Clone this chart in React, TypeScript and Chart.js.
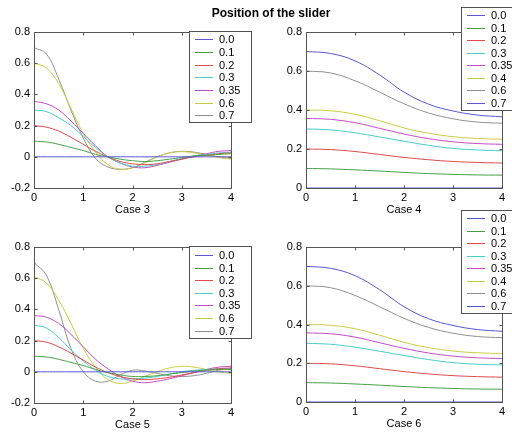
import React, { useEffect, useRef } from 'react';
import { Chart, registerables } from 'chart.js';

Chart.register(...registerables);

const FONT = "'Liberation Sans', Arial, Helvetica, sans-serif";

// ---------- data ----------
const xsFine = [0, 0.25, 0.5, 0.75, 1, 1.25, 1.5, 1.75, 2, 2.25, 2.5, 2.75, 3, 3.25, 3.5, 3.75, 4];
const xsCoarse = [0, 0.5, 1, 1.5, 2, 2.5, 3, 3.5, 4];

const xTicks = [0, 1, 2, 3, 4];
const yTicksSigned = [-0.2, 0, 0.2, 0.4, 0.6, 0.8];
const yTicksPositive = [0, 0.2, 0.4, 0.6, 0.8];

const labelsOdd = ['0.0', '0.1', '0.2', '0.3', '0.35', '0.6', '0.7'];
const labelsEven = ['0.0', '0.1', '0.2', '0.3', '0.35', '0.4', '0.6', '0.7'];

// Case 3
const c3_00 = [0, 0, 0, 0, 0, 0, 0, 0, 0, 0, 0, 0, 0, 0, 0, 0, 0];
const c3_01 = [0.1, 0.095, 0.08, 0.06, 0.04, 0.015, 0.0, -0.015, -0.025, -0.03, -0.025, -0.015, -0.005, 0.005, 0.01, 0.015, 0.02];
const c3_02 = [0.2, 0.19, 0.165, 0.125, 0.08, 0.035, 0.0, -0.03, -0.045, -0.05, -0.045, -0.03, -0.015, 0.0, 0.01, 0.02, 0.025];
const c3_03 = [0.3, 0.29, 0.25, 0.2, 0.13, 0.06, 0.0, -0.04, -0.06, -0.06, -0.05, -0.03, -0.01, 0.005, 0.015, 0.025, 0.03];
const c3_035 = [0.355, 0.34, 0.3, 0.23, 0.15, 0.07, 0.0, -0.04, -0.065, -0.07, -0.055, -0.035, -0.015, 0.005, 0.02, 0.035, 0.04];
const c3_06 = [0.6, 0.57, 0.47, 0.31, 0.15, 0.03, -0.05, -0.08, -0.07, -0.04, 0.0, 0.025, 0.033, 0.025, 0.01, -0.005, -0.015];
const c3_07 = [0.7, 0.66, 0.5, 0.3, 0.12, -0.01, -0.065, -0.08, -0.07, -0.035, 0.0, 0.025, 0.035, 0.03, 0.015, 0.0, -0.01];

// Case 5
const c5_00 = [0, 0, 0, 0, 0, 0, 0, 0, 0, 0, 0, 0, 0, 0, 0, 0, 0];
const c5_01 = [0.1, 0.095, 0.08, 0.06, 0.04, 0.015, -0.005, -0.02, -0.03, -0.03, -0.025, -0.015, -0.005, 0.005, 0.01, 0.015, 0.015];
const c5_02 = [0.2, 0.19, 0.16, 0.12, 0.075, 0.03, -0.005, -0.03, -0.045, -0.05, -0.045, -0.035, -0.02, -0.005, 0.01, 0.02, 0.025];
const c5_03 = [0.3, 0.28, 0.22, 0.14, 0.07, 0.01, -0.03, -0.045, -0.045, -0.04, -0.03, -0.015, 0.0, 0.01, 0.015, 0.02, 0.02];
const c5_035 = [0.36, 0.35, 0.31, 0.24, 0.16, 0.08, 0.02, -0.03, -0.06, -0.07, -0.06, -0.045, -0.025, -0.005, 0.015, 0.03, 0.035];
const c5_06 = [0.61, 0.57, 0.46, 0.31, 0.15, 0.03, -0.05, -0.075, -0.06, -0.03, 0.0, 0.025, 0.035, 0.03, 0.015, 0.0, -0.01];
const c5_07 = [0.7, 0.62, 0.4, 0.15, 0.0, -0.06, -0.06, -0.02, 0.01, 0.005, -0.01, -0.025, -0.03, -0.025, -0.01, 0.01, 0.02];

// Case 4
const c4_00 = [0, 0, 0, 0, 0, 0, 0, 0, 0];
const c4_01 = [0.1, 0.098, 0.093, 0.087, 0.08, 0.074, 0.07, 0.067, 0.066];
const c4_02 = [0.2, 0.197, 0.187, 0.172, 0.157, 0.145, 0.136, 0.131, 0.128];
const c4_03 = [0.303, 0.298, 0.283, 0.262, 0.24, 0.219, 0.203, 0.195, 0.191];
const c4_035 = [0.357, 0.352, 0.335, 0.306, 0.277, 0.253, 0.237, 0.228, 0.224];
const c4_04 = [0.4, 0.396, 0.378, 0.345, 0.308, 0.281, 0.263, 0.254, 0.25];
const c4_06 = [0.6, 0.59, 0.55, 0.492, 0.432, 0.385, 0.355, 0.338, 0.332];
const c4_07 = [0.7, 0.69, 0.652, 0.58, 0.492, 0.43, 0.395, 0.374, 0.365];

// Case 6
const c6_00 = [0, 0, 0, 0, 0, 0, 0, 0, 0];
const c6_01 = [0.1, 0.098, 0.093, 0.087, 0.08, 0.074, 0.07, 0.067, 0.066];
const c6_02 = [0.2, 0.197, 0.187, 0.172, 0.157, 0.145, 0.136, 0.131, 0.128];
const c6_03 = [0.303, 0.298, 0.283, 0.262, 0.24, 0.219, 0.203, 0.195, 0.191];
const c6_035 = [0.357, 0.352, 0.335, 0.306, 0.277, 0.253, 0.237, 0.228, 0.224];
const c6_04 = [0.4, 0.396, 0.378, 0.345, 0.308, 0.281, 0.263, 0.254, 0.25];
const c6_06 = [0.6, 0.59, 0.55, 0.492, 0.432, 0.385, 0.355, 0.338, 0.332];
const c6_07 = [0.7, 0.69, 0.652, 0.58, 0.492, 0.43, 0.395, 0.374, 0.365];

// ---------- styles ----------
const BLUE = '#5656d2';
const GREEN = '#46a046';
const RED = '#e04a4a';
const CYAN = '#46cccc';
const MAGENTA = '#c84ac8';
const YELLOW = '#cccc40';
const GRAY = '#909090';
const colorsOdd = [BLUE, GREEN, RED, CYAN, MAGENTA, YELLOW, GRAY];
const colorsEven = [BLUE, GREEN, RED, CYAN, MAGENTA, YELLOW, GRAY, BLUE];

type Area = { left: number; right: number; top: number; bottom: number };
type LegendBox = { x: number; y: number; w: number; h: number; row0: number; rowH: number };
type PanelCfg = {
  xs: number[];
  series: number[][];
  labels: string[];
  colors: string[];
  yMin: number;
  yMax: number;
  yTicks: number[];
  xTitle: string;
  area: Area;
  legend: LegendBox;
  suptitle?: string;
};

const W = 512;
const H = 435;
const X_AXIS_H = 32;
const Y_AXIS_W = 30;

const panels: PanelCfg[] = [
  {
    xs: xsFine,
    series: [c3_00, c3_01, c3_02, c3_03, c3_035, c3_06, c3_07],
    labels: labelsOdd,
    colors: colorsOdd,
    yMin: -0.2, yMax: 0.8, yTicks: yTicksSigned,
    xTitle: 'Case 3',
    area: { left: 34, right: 231, top: 32, bottom: 188 },
    legend: { x: 189, y: 31, w: 62, h: 91, row0: 39.3, rowH: 12.67 },
    suptitle: 'Position of the slider',
  },
  {
    xs: xsCoarse,
    series: [c4_00, c4_01, c4_02, c4_03, c4_035, c4_04, c4_06, c4_07],
    labels: labelsEven,
    colors: colorsEven,
    yMin: 0, yMax: 0.8, yTicks: yTicksPositive,
    xTitle: 'Case 4',
    area: { left: 306, right: 502, top: 32, bottom: 188 },
    legend: { x: 461, y: 7, w: 70, h: 103, row0: 15, rowH: 12.5 },
  },
  {
    xs: xsFine,
    series: [c5_00, c5_01, c5_02, c5_03, c5_035, c5_06, c5_07],
    labels: labelsOdd,
    colors: colorsOdd,
    yMin: -0.2, yMax: 0.8, yTicks: yTicksSigned,
    xTitle: 'Case 5',
    area: { left: 34, right: 231, top: 247, bottom: 403 },
    legend: { x: 189, y: 246, w: 62, h: 92, row0: 255, rowH: 12.6 },
  },
  {
    xs: xsCoarse,
    series: [c6_00, c6_01, c6_02, c6_03, c6_035, c6_04, c6_06, c6_07],
    labels: labelsEven,
    colors: colorsEven,
    yMin: 0, yMax: 0.8, yTicks: yTicksPositive,
    xTitle: 'Case 6',
    area: { left: 306, right: 502, top: 247, bottom: 402 },
    legend: { x: 461, y: 210, w: 70, h: 103, row0: 218.3, rowH: 12.5 },
  },
];

function makeDecor(cfg: PanelCfg) {
  return {
    id: 'matlabDecor',
    afterDraw(chart: any) {
      const { ctx, chartArea: ca, scales } = chart;
      ctx.save();
      // axes box with inward ticks
      ctx.strokeStyle = '#555555';
      ctx.lineWidth = 1;
      const L = Math.round(ca.left) + 0.5;
      const R = Math.round(ca.right) + 0.5;
      const T = Math.round(ca.top) + 0.5;
      const B = Math.round(ca.bottom) + 0.5;
      ctx.strokeRect(L, T, R - L, B - T);
      const tl = 3;
      ctx.beginPath();
      for (const v of xTicks) {
        const px = Math.round(scales.x.getPixelForValue(v)) + 0.5;
        ctx.moveTo(px, B); ctx.lineTo(px, B - tl);
        ctx.moveTo(px, T); ctx.lineTo(px, T + tl);
      }
      for (const v of cfg.yTicks) {
        const py = Math.round(scales.y.getPixelForValue(v)) + 0.5;
        ctx.moveTo(L, py); ctx.lineTo(L + tl, py);
        ctx.moveTo(R, py); ctx.lineTo(R - tl, py);
      }
      ctx.stroke();

      // legend
      const lg = cfg.legend;
      ctx.fillStyle = '#ffffff';
      ctx.fillRect(lg.x, lg.y, lg.w, lg.h);
      ctx.strokeStyle = '#505050';
      ctx.strokeRect(Math.round(lg.x) + 0.5, Math.round(lg.y) + 0.5, Math.round(lg.w), Math.round(lg.h));
      ctx.font = `11px ${FONT}`;
      ctx.textBaseline = 'middle';
      ctx.textAlign = 'left';
      cfg.labels.forEach((lab, i) => {
        const cy = Math.round(lg.row0 + i * lg.rowH) + 0.5;
        ctx.strokeStyle = cfg.colors[i];
        ctx.beginPath();
        ctx.moveTo(lg.x + 6, cy);
        ctx.lineTo(lg.x + 24, cy);
        ctx.stroke();
        ctx.fillStyle = '#000';
        ctx.fillText(lab, lg.x + 30, cy + 0.5);
      });

      if (cfg.suptitle) {
        ctx.font = `bold 12px ${FONT}`;
        ctx.textAlign = 'center';
        ctx.fillStyle = '#000';
        ctx.fillText(cfg.suptitle, 271, 14);
      }
      ctx.restore();
    },
  };
}

function Panel({ cfg }: { cfg: PanelCfg }) {
  const ref = useRef<HTMLCanvasElement>(null);
  useEffect(() => {
    const canvas = ref.current;
    if (!canvas) return;
    const chart = new Chart(canvas, {
      type: 'line',
      data: {
        datasets: cfg.series.map((s, i) => ({
          label: cfg.labels[i],
          data: s.map((v, j) => ({ x: cfg.xs[j], y: v })),
          borderColor: cfg.colors[i],
          backgroundColor: cfg.colors[i],
          borderWidth: 1,
          pointRadius: 0,
          fill: false,
          tension: 0.4,
        })),
      },
      options: {
        responsive: false,
        animation: false,
        devicePixelRatio: 1,
        events: [],
        layout: {
          padding: {
            left: cfg.area.left - Y_AXIS_W,
            right: W - cfg.area.right,
            top: cfg.area.top,
            bottom: H - cfg.area.bottom - X_AXIS_H,
          },
        },
        plugins: {
          legend: { display: false },
          tooltip: { enabled: false },
          title: { display: false },
        },
        scales: {
          x: {
            type: 'linear',
            min: 0,
            max: 4,
            afterFit: (s: any) => { s.height = X_AXIS_H; },
            grid: { display: false, drawTicks: false },
            border: { display: false },
            ticks: { stepSize: 1, color: '#000', font: { family: FONT, size: 11 }, padding: 3, maxRotation: 0 },
            title: {
              display: true,
              text: cfg.xTitle,
              color: '#000',
              font: { family: FONT, size: 11 },
              padding: { top: 0, bottom: 3 },
            },
          },
          y: {
            type: 'linear',
            min: cfg.yMin,
            max: cfg.yMax,
            afterFit: (s: any) => { s.width = Y_AXIS_W; },
            grid: { display: false, drawTicks: false },
            border: { display: false },
            ticks: { stepSize: 0.2, color: '#000', font: { family: FONT, size: 11 }, padding: 4 },
          },
        },
      } as any,
      plugins: [makeDecor(cfg)],
    });
    return () => chart.destroy();
  }, [cfg]);
  return (
    <canvas
      ref={ref}
      width={W}
      height={H}
      style={{ position: 'absolute', left: 0, top: 0, width: W, height: H }}
    />
  );
}

export default function App() {
  return (
    <div style={{ position: 'fixed', left: 0, top: 0, width: W, height: H, background: '#fff', overflow: 'hidden' }}>
      {panels.map((p, i) => (
        <Panel key={i} cfg={p} />
      ))}
    </div>
  );
}
